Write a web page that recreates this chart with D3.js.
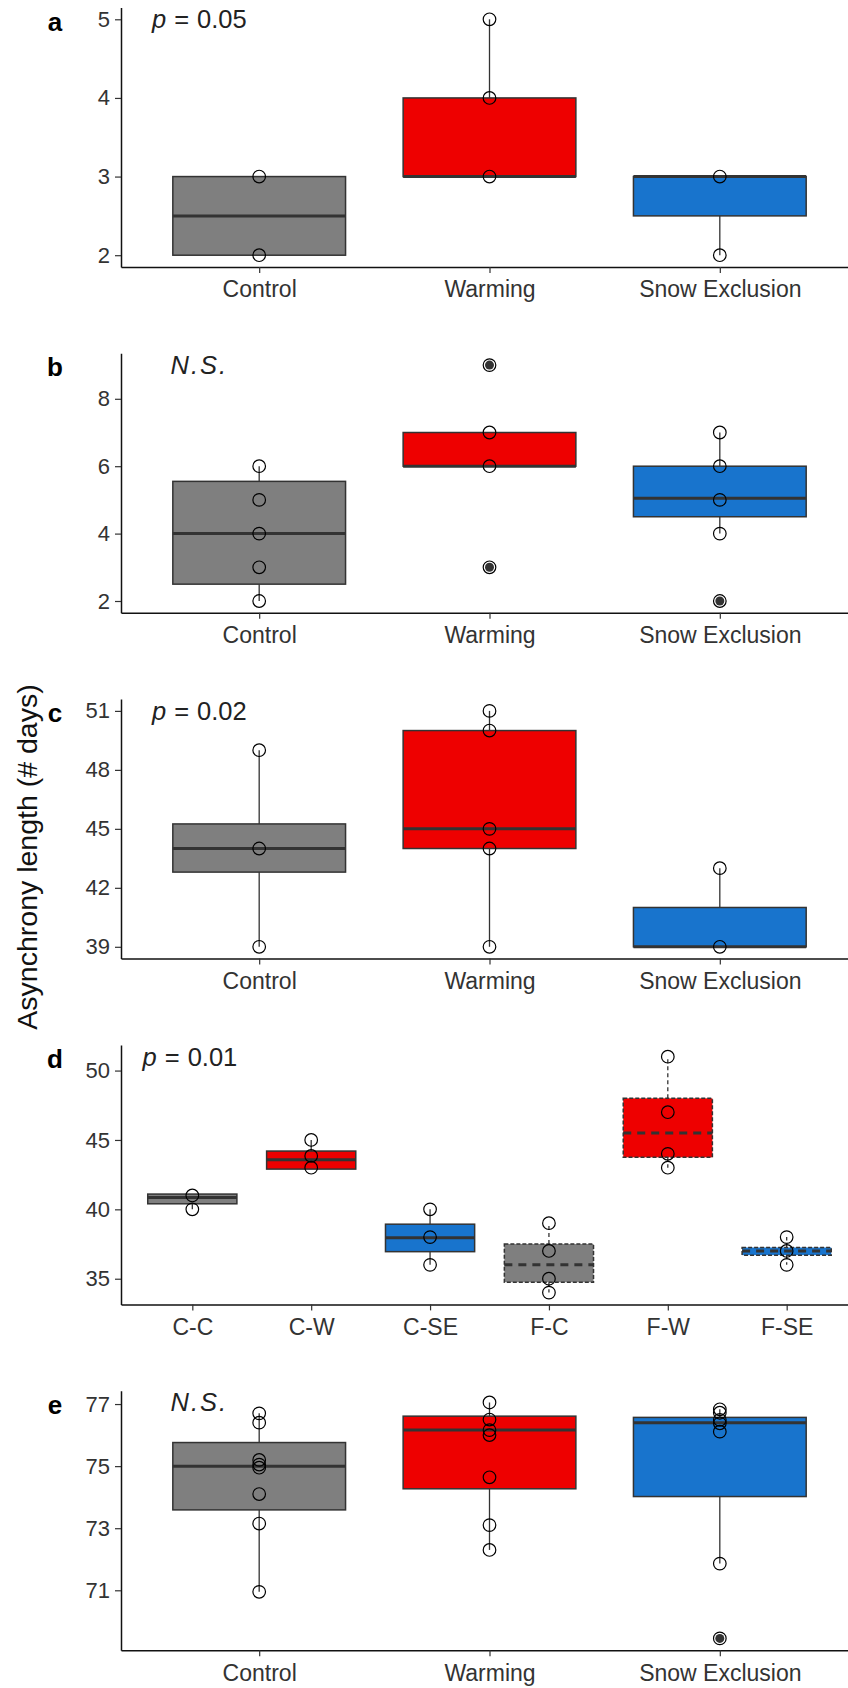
<!DOCTYPE html>
<head>
    <meta charset="utf-8">
    <script src="https://d3js.org/d3.v7.min.js"></script>
    <style>
        body { margin:0; background:#fff; }
        text { font-family: "Liberation Sans", Arial, sans-serif; }
    </style>
</head>
<body>
<script>
    // categories
    var treatments = ["Control", "Warming", "Snow Exclusion"];
    var combos = ["C-C", "C-W", "C-SE", "F-C", "F-W", "F-SE"];

    // panel a : box = [q1, median, q3], whisk = [low, high]
    var aPoints = [[2, 3], [3, 4, 5], [2, 3]];
    var aBox = [[2, 2.5, 3], [3, 3, 4], [2.5, 3, 3]];
    var aWhisk = [[2, 3], [3, 5], [2, 3]];
    var aOut = [[], [], []];
    var aTicks = [2, 3, 4, 5];

    // panel b
    var bPoints = [[2, 3, 4, 5, 6], [3, 6, 7, 9], [2, 4, 5, 6, 7]];
    var bBox = [[2.5, 4, 5.55], [6, 6, 7], [4.5, 5.05, 6]];
    var bWhisk = [[2, 6], [6, 7], [4, 7]];
    var bOut = [[], [3, 9], [2]];
    var bTicks = [2, 4, 6, 8];

    // panel c
    var cPoints = [[39, 44, 49], [39, 44, 45, 50, 51], [39, 43]];
    var cBox = [[42.8, 44, 45.25], [44, 45, 50], [39, 39, 41]];
    var cWhisk = [[39, 49], [39, 51], [39, 43]];
    var cOut = [[], [], []];
    var cTicks = [39, 42, 45, 48, 51];

    // panel d
    var dPoints = [[40, 41], [43, 43.85, 45], [36, 38, 40], [34, 35, 37, 39], [43, 44, 47, 51], [36, 37, 38]];
    var dBox = [[40.4, 40.85, 41.1], [42.9, 43.57, 44.2], [36.95, 37.96, 38.93], [34.75, 36, 37.5], [43.75, 45.5, 48], [36.7, 37, 37.25]];
    var dWhisk = [[40, 41.1], [42.9, 45], [36, 40], [34, 39], [43, 51], [36, 38]];
    var dOut = [[], [], [], [], [], []];
    var dTicks = [35, 40, 45, 50];

    // panel e
    var ePoints = [[76.7, 76.4, 75.2, 75.05, 74.95, 74.1, 73.15, 70.95],
        [77.05, 76.5, 76.16, 76.0, 74.64, 73.1, 72.3],
        [76.83, 76.72, 76.49, 76.38, 76.11, 71.86, 69.45]];
    var eBox = [[73.59, 75.0, 75.76], [74.27, 76.16, 76.61], [74.02, 76.4, 76.57]];
    var eWhisk = [[70.95, 76.7], [72.3, 77.05], [71.86, 76.83]];
    var eOut = [[], [], [69.45]];
    var eTicks = [71, 73, 75, 77];

    var labels = ["a", "b", "c", "d", "e"];
    var notes = ["0.05", "N.S.", "0.02", "0.01", "N.S."];

    var panels = [
        {cats: treatments, points: aPoints, box: aBox, whisk: aWhisk, out: aOut, ticks: aTicks, noteX: 0.74},
        {cats: treatments, points: bPoints, box: bBox, whisk: bWhisk, out: bOut, ticks: bTicks, noteX: 0.74},
        {cats: treatments, points: cPoints, box: cBox, whisk: cWhisk, out: cOut, ticks: cTicks, noteX: 0.74},
        {cats: combos, points: dPoints, box: dBox, whisk: dWhisk, out: dOut, ticks: dTicks, noteX: 0.98},
        {cats: treatments, points: ePoints, box: eBox, whisk: eWhisk, out: eOut, ticks: eTicks, noteX: 0.74}
    ];

    var fill = d3.scaleOrdinal()
        .domain(["Control", "Warming", "Snow Exclusion", "C", "W", "SE"])
        .range(["#7f7f7f", "#ee0000", "#1874cd", "#7f7f7f", "#ee0000", "#1874cd"]);

    var width = 848, height = 1688;
    var left = 121, right = 858;
    var panelH = 259.5, step = 345.8, top0 = 7.5;

    var svg = d3.select("body").append("svg")
        .attr("width", width)
        .attr("height", height);

    panels.forEach(function(p, i) {
        var top = top0 + i * step;
        var g = svg.append("g").attr("transform", "translate(0," + top + ")");
        var n = p.cats.length;

        var all = d3.merge(p.points.concat(p.out));
        var lo = d3.min(all), hi = d3.max(all), pad = (hi - lo) * 0.05;
        var y = d3.scaleLinear().domain([lo - pad, hi + pad]).range([panelH, 0]);
        var x = d3.scaleLinear().domain([0.4, n + 0.6]).range([left, right]);
        var half = (x(1.375) - x(1));

        // y axis
        var ya = g.append("g")
            .attr("transform", "translate(" + left + ",0)")
            .call(d3.axisLeft(y).tickValues(p.ticks).tickFormat(d3.format("d"))
                .tickSize(6).tickSizeOuter(0).tickPadding(5));
        // x axis
        var xa = g.append("g")
            .attr("transform", "translate(0," + panelH + ")")
            .call(d3.axisBottom(x).tickValues(d3.range(1, n + 1))
                .tickFormat(function(d) { return p.cats[d - 1]; })
                .tickSize(6).tickSizeOuter(0).tickPadding(8));
        [ya, xa].forEach(function(a) {
            a.attr("font-family", null).attr("font-size", 23);
            a.select(".domain").attr("stroke", "#111").attr("stroke-width", 1.5);
            a.selectAll(".tick line").attr("stroke", "#333").attr("stroke-width", 1.2);
            a.selectAll(".tick text").attr("fill", "#333");
        });
        ya.selectAll(".tick text").attr("font-size", 22);

        var dashed = function(c) { return c.charAt(1) === "-" && c.charAt(0) === "F"; };
        var groupFill = function(c) { return c.indexOf("-") > 0 ? fill(c.split("-")[1]) : fill(c); };

        p.cats.forEach(function(c, j) {
            var cx = x(j + 1);
            var b = p.box[j], w = p.whisk[j];
            var dash = dashed(c);
            // whiskers
            g.append("line")
                .attr("x1", cx).attr("x2", cx)
                .attr("y1", y(b[2])).attr("y2", y(w[1]))
                .attr("stroke", "#333").attr("stroke-width", 1.3)
                .attr("stroke-dasharray", dash ? "4,3" : null);
            g.append("line")
                .attr("x1", cx).attr("x2", cx)
                .attr("y1", y(b[0])).attr("y2", y(w[0]))
                .attr("stroke", "#333").attr("stroke-width", 1.3)
                .attr("stroke-dasharray", dash ? "4,3" : null);
            // box
            g.append("rect")
                .attr("x", cx - half).attr("width", half * 2)
                .attr("y", y(b[2])).attr("height", y(b[0]) - y(b[2]))
                .attr("fill", groupFill(c))
                .attr("stroke", "#333").attr("stroke-width", 1.5)
                .attr("stroke-dasharray", dash ? "4,2" : null);
            // median
            g.append("line")
                .attr("x1", cx - half).attr("x2", cx + half)
                .attr("y1", y(b[1])).attr("y2", y(b[1]))
                .attr("stroke", "#333").attr("stroke-width", 3)
                .attr("stroke-dasharray", dash ? "8,6" : null);
            // outliers
            g.selectAll(null).data(p.out[j]).enter().append("circle")
                .attr("cx", cx).attr("cy", function(d) { return y(d); })
                .attr("r", 4.5).attr("fill", "#333");
            // raw points
            g.selectAll(null).data(p.points[j]).enter().append("circle")
                .attr("cx", cx).attr("cy", function(d) { return y(d); })
                .attr("r", 6.3).attr("fill", "none")
                .attr("stroke", "#000").attr("stroke-width", 1.2);
        });

        // panel letter
        g.append("text")
            .attr("x", 55).attr("y", 14).attr("dy", "0.35em")
            .attr("text-anchor", "middle")
            .attr("font-size", 26).attr("font-weight", "bold")
            .attr("fill", "#000")
            .text(labels[i]);

        // annotation
        var note = g.append("text")
            .attr("x", x(p.noteX)).attr("y", y(hi)).attr("dy", "0.35em")
            .attr("text-anchor", "middle")
            .attr("font-size", 25.5).attr("fill", "#222");
        if (notes[i] === "N.S.") {
            note.attr("font-style", "italic").attr("letter-spacing", 2).text(notes[i]);
        } else {
            note.append("tspan").attr("font-style", "italic").text("p");
            note.append("tspan").attr("dx", 8).text("=");
            note.append("tspan").attr("dx", 8).text(notes[i]);
        }
    });

    // shared y title
    svg.append("text")
        .attr("transform", "translate(27,857) rotate(-90)")
        .attr("dy", "0.35em")
        .attr("text-anchor", "middle")
        .attr("font-size", 28.5)
        .attr("fill", "#111")
        .text("Asynchrony length (# days)");
</script>
</body>
